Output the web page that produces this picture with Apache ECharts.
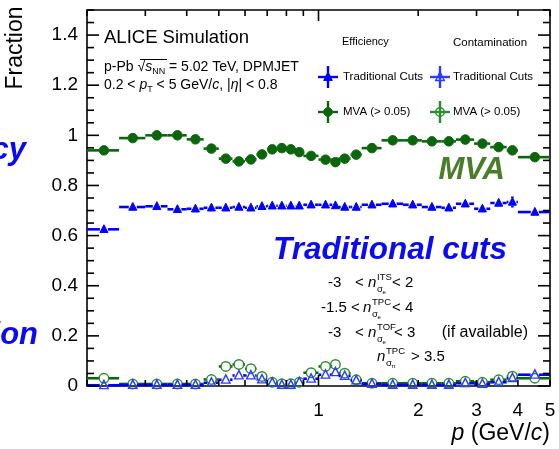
<!DOCTYPE html>
<html>
<head>
<meta charset="utf-8">
<script src="https://cdn.jsdelivr.net/npm/echarts@6/dist/echarts.min.js"></script>
<style>
  html, body { margin: 0; padding: 0; background: #fff; }
  #chart { width: 559px; height: 449px; }
</style>
</head>
<body>
<div id="chart"></div>
<script>
// Momentum bins (GeV/c)
const binEdges = [0.2, 0.25, 0.3, 0.35, 0.4, 0.45, 0.5, 0.55, 0.6, 0.65, 0.7, 0.75, 0.8, 0.85, 0.9,
                  1.0, 1.1, 1.15, 1.25, 1.35, 1.55, 1.8, 2.05, 2.35, 2.6, 2.95, 3.3, 3.7, 4.0, 5.0];

// Efficiency
const effMVA  = [0.940, 0.989, 1.000, 1.000, 0.984, 0.947, 0.907, 0.896, 0.904, 0.924, 0.944, 0.949, 0.944, 0.933, 0.918,
                 0.903, 0.893, 0.907, 0.923, 0.949, 0.980, 0.980, 0.976, 0.976, 0.983, 0.967, 0.953, 0.940, 0.913];
const effTrad = [0.625, 0.714, 0.717, 0.705, 0.707, 0.711, 0.711, 0.714, 0.711, 0.717, 0.719, 0.719, 0.719, 0.719, 0.723,
                 0.723, 0.720, 0.714, 0.714, 0.723, 0.727, 0.723, 0.714, 0.711, 0.727, 0.707, 0.730, 0.734, 0.694];
const effMVAErr  = [0.004, 0.003, 0.003, 0.003, 0.003, 0.003, 0.003, 0.003, 0.003, 0.003, 0.003, 0.003, 0.003, 0.003, 0.003,
                    0.003, 0.003, 0.003, 0.003, 0.003, 0.003, 0.003, 0.003, 0.003, 0.004, 0.004, 0.005, 0.006, 0.006];
const effTradErr = [0.005, 0.003, 0.003, 0.003, 0.003, 0.003, 0.003, 0.003, 0.003, 0.003, 0.003, 0.003, 0.003, 0.003, 0.003,
                    0.003, 0.003, 0.003, 0.003, 0.003, 0.003, 0.003, 0.003, 0.004, 0.005, 0.006, 0.008, 0.022, 0.014];

// Contamination
const contMVA  = [0.031, 0.008, 0.008, 0.008, 0.008, 0.026, 0.078, 0.086, 0.069, 0.038, 0.015, 0.009, 0.009, 0.015, 0.053,
                  0.078, 0.086, 0.051, 0.025, 0.011, 0.011, 0.011, 0.011, 0.011, 0.019, 0.015, 0.025, 0.039, 0.031];
const contTrad = [0.003, 0.004, 0.004, 0.004, 0.004, 0.013, 0.025, 0.042, 0.042, 0.026, 0.013, 0.004, 0.004, 0.015, 0.029,
                  0.045, 0.055, 0.040, 0.022, 0.008, 0.004, 0.004, 0.004, 0.004, 0.011, 0.008, 0.015, 0.031, 0.045];
const contMVAErr  = [0.003, 0.002, 0.002, 0.002, 0.002, 0.003, 0.004, 0.004, 0.004, 0.003, 0.002, 0.002, 0.002, 0.002, 0.003,
                     0.004, 0.004, 0.003, 0.002, 0.002, 0.002, 0.002, 0.002, 0.002, 0.002, 0.002, 0.003, 0.004, 0.004];
const contTradErr = [0.002, 0.002, 0.002, 0.002, 0.002, 0.002, 0.003, 0.003, 0.003, 0.003, 0.002, 0.002, 0.002, 0.002, 0.003,
                     0.003, 0.003, 0.003, 0.002, 0.002, 0.002, 0.002, 0.002, 0.002, 0.002, 0.002, 0.002, 0.003, 0.004];

// Axis ticks and labels
const xTickValues  = [0.2, 0.3, 0.4, 0.5, 0.6, 0.7, 0.8, 0.9, 1, 2, 3, 4, 5];
const xLongTicks   = [1];
const xLabelValues = [1, 2, 3, 4, 5];
const xLabelTexts  = ['1', '2', '3', '4', '5'];
const yMax = 1.5, yLabelStep = 0.2, yMinorStep = 0.05;

const FONT = '"Liberation Sans", Arial, Helvetica, sans-serif';
const GREEN = '#0b660b';
const GREEN_OPEN = '#2a8c2a';
const BLUE = '#0000ff';
const BLUE_OPEN = '#2a3cff';

function markerShape(kind, cx, cy, r, color, filled) {
  const style = filled
    ? { fill: color, stroke: color, lineWidth: 1 }
    : { fill: 'rgba(0,0,0,0)', stroke: color, lineWidth: 1.4 };
  if (kind === 'circle') {
    return { type: 'circle', shape: { cx, cy, r }, style };
  }
  return {
    type: 'polygon',
    shape: { points: [[cx, cy - r * 1.15], [cx - r, cy + r * 0.8], [cx + r, cy + r * 0.8]] },
    style
  };
}

function binSeries(name, vals, errs, opt) {
  return {
    type: 'custom',
    name,
    clip: false,
    z: opt.z,
    data: vals.map((v, i) => [binEdges[i], binEdges[i + 1], v, errs[i]]),
    encode: { x: [0, 1], y: 2 },
    renderItem(params, api) {
      const lo = api.value(0), hi = api.value(1), v = api.value(2), e = api.value(3);
      const mid = (lo + hi) / 2;
      const c = api.coord([mid, v]);
      const xl = api.coord([lo, v])[0];
      const xh = api.coord([hi, v])[0];
      const yt = api.coord([mid, v + e])[1];
      const yb = api.coord([mid, v - e])[1];
      const r = opt.size / 2;
      const ls = { stroke: opt.lineColor, lineWidth: opt.lineWidth };
      const children = [];
      if (c[0] - r > xl) children.push({ type: 'line', shape: { x1: xl, y1: c[1], x2: c[0] - r, y2: c[1] }, style: ls });
      if (xh > c[0] + r) children.push({ type: 'line', shape: { x1: c[0] + r, y1: c[1], x2: xh, y2: c[1] }, style: ls });
      if (c[1] - yt > r) {
        children.push({ type: 'line', shape: { x1: c[0], y1: yt, x2: c[0], y2: c[1] - r }, style: ls });
        children.push({ type: 'line', shape: { x1: c[0], y1: c[1] + r, x2: c[0], y2: yb }, style: ls });
      }
      children.push(markerShape(opt.symbol, c[0], c[1], r, opt.color, opt.filled));
      return { type: 'group', children };
    }
  };
}

// Tick marks on all four sides of the frame
const yTickValues = [];
for (let k = 0; k * yMinorStep <= yMax + 1e-9; k++) yTickValues.push(+(k * yMinorStep).toFixed(3));

const xTickSeries = {
  type: 'custom',
  clip: false,
  z: 6,
  silent: true,
  data: xTickValues.map(v => [v, 0]),
  renderItem(params, api) {
    const cs = params.coordSys;
    const v = api.value(0);
    const px = api.coord([v, 0])[0];
    const len = xLongTicks.indexOf(v) >= 0 ? 11 : 6;
    const bottom = cs.y + cs.height, top = cs.y;
    const st = { stroke: '#000', lineWidth: 1.6 };
    const children = [
      { type: 'line', shape: { x1: px, y1: bottom, x2: px, y2: bottom - len }, style: st },
      { type: 'line', shape: { x1: px, y1: top, x2: px, y2: top + len }, style: st }
    ];
    const li = xLabelValues.indexOf(v);
    if (li >= 0) {
      children.push({
        type: 'text',
        style: { text: xLabelTexts[li], x: px, y: bottom + 25, align: 'center', verticalAlign: 'middle',
                 fontFamily: FONT, fontSize: 19, fill: '#000' }
      });
    }
    return { type: 'group', children };
  }
};

const yTickSeries = {
  type: 'custom',
  clip: false,
  z: 6,
  silent: true,
  data: yTickValues.map(v => [1, v]),
  renderItem(params, api) {
    const cs = params.coordSys;
    const v = api.value(1);
    const py = api.coord([1, v])[1];
    const major = Math.abs(v / yLabelStep - Math.round(v / yLabelStep)) < 1e-6;
    const len = major ? 12 : 7;
    const left = cs.x, right = cs.x + cs.width;
    const st = { stroke: '#000', lineWidth: 1.6 };
    return {
      type: 'group',
      children: [
        { type: 'line', shape: { x1: left, y1: py, x2: left + len, y2: py }, style: st },
        { type: 'line', shape: { x1: right, y1: py, x2: right - len, y2: py }, style: st }
      ]
    };
  }
};

// Text helpers
function txt(x, y, text, o) {
  return {
    type: 'text', x, y, z: 20, silent: true,
    style: Object.assign({ text, fontFamily: FONT, fontSize: 15, fill: '#000', align: 'left', verticalAlign: 'middle' }, o || {})
  };
}
function nSigma(x, y, sup, sub, subsub) {
  return [
    txt(x, y, 'n', { fontStyle: 'italic', fontSize: 15 }),
    txt(x + 9, y - 6, sup, { fontSize: 9.5 }),
    txt(x + 9, y + 6, sub, { fontSize: 9.5 }),
    txt(x + 14.5, y + 9, subsub, { fontSize: 6 })
  ];
}
function cross(cx, cy, color, kind, filled) {
  const st = { stroke: color, lineWidth: 2.4 };
  return [
    { type: 'line', z: 20, shape: { x1: cx - 10, y1: cy, x2: cx + 10, y2: cy }, style: st },
    { type: 'line', z: 20, shape: { x1: cx, y1: cy - 11, x2: cx, y2: cy + 11 }, style: st },
    Object.assign(markerShape(kind, cx, cy, 4.3, color, filled), { z: 21 })
  ];
}

const richSmall = {
  t: { fontFamily: FONT, fontSize: 14, lineHeight: 18, fill: '#000' },
  i: { fontFamily: FONT, fontSize: 14, lineHeight: 18, fontStyle: 'italic', fill: '#000' },
  sub: { fontFamily: FONT, fontSize: 9, verticalAlign: 'bottom', fill: '#000' }
};

const graphics = [
  // axis titles
  { type: 'text', x: 16, y: 48, rotation: Math.PI / 2, z: 20, silent: true,
    style: { text: 'Fraction', x: 0, y: 0, align: 'center', verticalAlign: 'middle', fontFamily: FONT, fontSize: 23, fill: '#000' } },
  txt(550, 434, '{i|p} (GeV/{i|c})', {
    align: 'right', fontSize: 23,
    rich: { i: { fontFamily: FONT, fontSize: 23, fontStyle: 'italic', fill: '#000' } }
  }),

  // header block
  txt(104, 38, 'ALICE Simulation', { fontSize: 18.5 }),
  txt(104, 67, '{t|p-Pb }{t|√}{i|s}{sub|NN}{t| = 5.02 TeV, DPMJET}', { rich: richSmall, fontSize: 14 }),
  { type: 'line', z: 20, shape: { x1: 140, y1: 59.5, x2: 167, y2: 59.5 }, style: { stroke: '#000', lineWidth: 1 } },
  txt(104, 85, '{t|0.2 < }{i|p}{sub|T}{t| < 5 GeV/}{i|c}{t|, |}{i|η}{t|| < 0.8}', { rich: richSmall, fontSize: 14 }),

  // legend
  txt(342, 42, 'Efficiency', { fontSize: 11 }),
  txt(453, 43, 'Contamination', { fontSize: 11.5 }),
  ...cross(328, 77, BLUE, 'triangle', true),
  txt(343, 77, 'Traditional Cuts', { fontSize: 11.5 }),
  ...cross(328, 112, GREEN, 'circle', true),
  txt(343, 112, 'MVA (> 0.05)', { fontSize: 11.5 }),
  ...cross(440, 77, BLUE_OPEN, 'triangle', false),
  txt(453, 77, 'Traditional Cuts', { fontSize: 11.5 }),
  ...cross(440, 112, GREEN_OPEN, 'circle', false),
  txt(453, 112, 'MVA (> 0.05)', { fontSize: 11.5 }),

  // big labels
  txt(505, 170, 'MVA', { align: 'right', fontSize: 31, fontWeight: 'bold', fontStyle: 'italic', fill: '#4a7d2a' }),
  txt(507, 250, 'Traditional cuts', { align: 'right', fontSize: 31.5, fontWeight: 'bold', fontStyle: 'italic', fill: '#0a0af5' }),
  txt(26, 150, 'Efficiency', { align: 'right', fontSize: 31, fontWeight: 'bold', fontStyle: 'italic', fill: '#0a0af5' }),
  txt(38, 335, 'Contamination', { align: 'right', fontSize: 31, fontWeight: 'bold', fontStyle: 'italic', fill: '#0a0af5' }),

  // selection cuts
  txt(328, 283, '-3'), txt(355, 283, '<'), ...nSigma(368, 283, 'ITS', 'σ', 'e'), txt(392, 283, '< 2'),
  txt(321, 308, '-1.5'), txt(351, 308, '<'), ...nSigma(363, 308, 'TPC', 'σ', 'e'), txt(392, 308, '< 4'),
  txt(328, 333, '-3'), txt(355, 333, '<'), ...nSigma(368, 333, 'TOF', 'σ', 'e'), txt(394, 333, '< 3'),
  txt(528, 333, '(if available)', { align: 'right', fontSize: 16 }),
  ...nSigma(377, 357, 'TPC', 'σ', 'π'), txt(411, 357, '> 3.5')
];

const chart = echarts.init(document.getElementById('chart'), null, { renderer: 'canvas' });
chart.setOption({
  animation: false,
  backgroundColor: '#fff',
  grid: { left: 87, right: 9, top: 10, bottom: 63, show: true, borderColor: '#000', borderWidth: 1.6, backgroundColor: 'transparent' },
  xAxis: {
    type: 'log', logBase: 10, min: 0.2, max: 5,
    axisLine: { show: false }, axisTick: { show: false }, axisLabel: { show: false }, splitLine: { show: false }
  },
  yAxis: {
    type: 'value', min: 0, max: yMax, interval: yLabelStep,
    axisLine: { show: false }, axisTick: { show: false }, splitLine: { show: false },
    axisLabel: { showMaxLabel: false, fontFamily: FONT, fontSize: 19, color: '#000', margin: 9 }
  },
  series: [
    binSeries('Efficiency Traditional Cuts', effTrad, effTradErr, { color: BLUE, lineColor: BLUE, symbol: 'triangle', filled: true, size: 8, lineWidth: 2.6, z: 3 }),
    binSeries('Efficiency MVA', effMVA, effMVAErr, { color: GREEN, lineColor: GREEN, symbol: 'circle', filled: true, size: 9.5, lineWidth: 2.6, z: 3 }),
    binSeries('Contamination MVA', contMVA, contMVAErr, { color: GREEN_OPEN, lineColor: GREEN, symbol: 'circle', filled: false, size: 9.5, lineWidth: 2.6, z: 4 }),
    binSeries('Contamination Traditional Cuts', contTrad, contTradErr, { color: BLUE_OPEN, lineColor: BLUE, symbol: 'triangle', filled: false, size: 8.5, lineWidth: 2.6, z: 5 }),
    xTickSeries,
    yTickSeries
  ],
  graphic: graphics
});
</script>
</body>
</html>
